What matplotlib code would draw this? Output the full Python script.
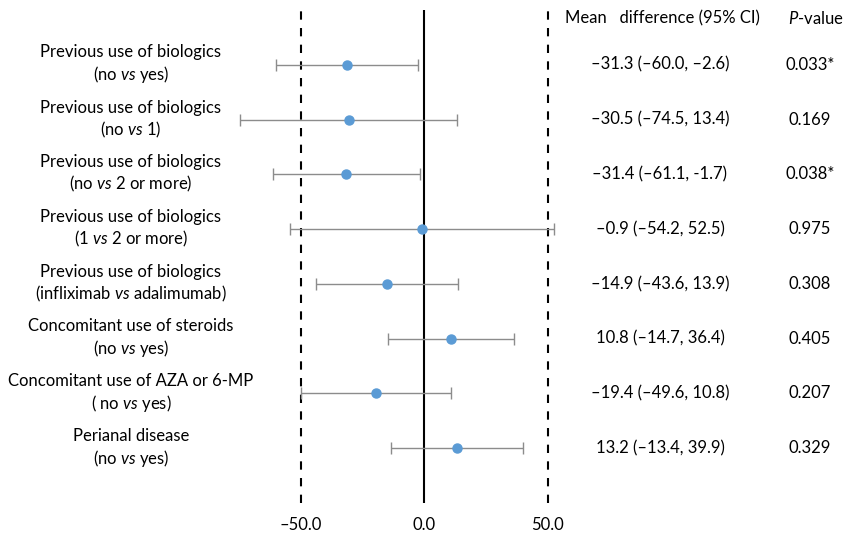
import numpy as np
import matplotlib
matplotlib.use("Agg")
import matplotlib.pyplot as plt

plt.rcParams['font.family'] = ['Lato', 'DejaVu Sans']
plt.rcParams['mathtext.fontset'] = 'custom'
plt.rcParams['mathtext.rm'] = 'Lato'
plt.rcParams['mathtext.it'] = 'Lato:italic'

# data
labels = [
    "Previous use of biologics\n(no $\\mathit{vs}$ yes)",
    "Previous use of biologics\n(no $\\mathit{vs}$ 1)",
    "Previous use of biologics\n(no $\\mathit{vs}$ 2 or more)",
    "Previous use of biologics\n(1 $\\mathit{vs}$ 2 or more)",
    "Previous use of biologics\n(infliximab $\\mathit{vs}$ adalimumab)",
    "Concomitant use of steroids\n(no $\\mathit{vs}$ yes)",
    "Concomitant use of AZA or 6-MP\n( no $\\mathit{vs}$ yes)",
    "Perianal disease\n(no $\\mathit{vs}$ yes)",
]
mean_diff = [-31.3, -30.5, -31.4, -0.9, -14.9, 10.8, -19.4, 13.2]
ci_low = [-60.0, -74.5, -61.1, -54.2, -43.6, -14.7, -49.6, -13.4]
ci_high = [-2.6, 13.4, -1.7, 52.5, 13.9, 36.4, 10.8, 39.9]
ci_text = ["–31.3 (–60.0, –2.6)", "–30.5 (–74.5, 13.4)", "–31.4 (–61.1, -1.7)",
           "–0.9 (–54.2, 52.5)", "–14.9 (–43.6, 13.9)", "10.8 (–14.7, 36.4)",
           "–19.4 (–49.6, 10.8)", "13.2 (–13.4, 39.9)"]
p_text = ["0.033*", "0.169", "0.038*", "0.975", "0.308", "0.405", "0.207", "0.329"]
xticks = [-50, 0, 50]
xtick_labels = ["–50.0", "0.0", "50.0"]

W, H = 843, 535
fig = plt.figure(figsize=(W / 100, H / 100), dpi=100)

# axes placed so that -50 -> 300px, 0 -> 424px, 50 -> 547px
x0, x1 = -78, 56
left_px = 424 + x0 * 2.47
right_px = 424 + x1 * 2.47
ax = fig.add_axes([left_px / W, 32 / H, (right_px - left_px) / W, 493 / H])

n = len(mean_diff)
y = np.arange(n, 0, -1)
mean_diff = np.array(mean_diff)
err = [mean_diff - np.array(ci_low), np.array(ci_high) - mean_diff]

ax.axvline(0, color='black', lw=1.5, zorder=1)
ax.axvline(-50, color='black', lw=1.5, ls=(0, (4, 4)), zorder=1)
ax.axvline(50, color='black', lw=1.5, ls=(0, (4, 4)), zorder=1)

ax.errorbar(mean_diff, y, xerr=err, fmt='o', color='#5b9bd5', ms=6.5,
            ecolor='#8c8c8c', elinewidth=1.0, capsize=4, capthick=1.0, zorder=3)

ax.set_xlim(x0, x1)
ax.set_ylim(0, n + 1)
ax.set_xticks(xticks)
ax.set_xticklabels(xtick_labels, fontsize=12)
ax.tick_params(axis='x', length=0, pad=10)
ax.set_yticks([])
for s in ax.spines.values():
    s.set_visible(False)

# left labels and right text columns
for yi, lab, ct, pt in zip(y, labels, ci_text, p_text):
    yf = ax.transData.transform((0, yi))[1] / H
    fig.text(131 / W, yf, lab, ha='center', va='center', fontsize=12, linespacing=1.25)
    fig.text(660 / W, yf, ct, ha='center', va='center', fontsize=12)
    fig.text(810 / W, yf, pt, ha='center', va='center', fontsize=12)

fig.text(565 / W, 1 - 18 / H, "Mean   difference (95% CI)", ha='left', va='center', fontsize=12)
fig.text(788 / W, 1 - 18 / H, "$\\mathit{P}$-value", ha='left', va='center', fontsize=12)

fig.savefig("out.png", dpi=100, facecolor='white')
